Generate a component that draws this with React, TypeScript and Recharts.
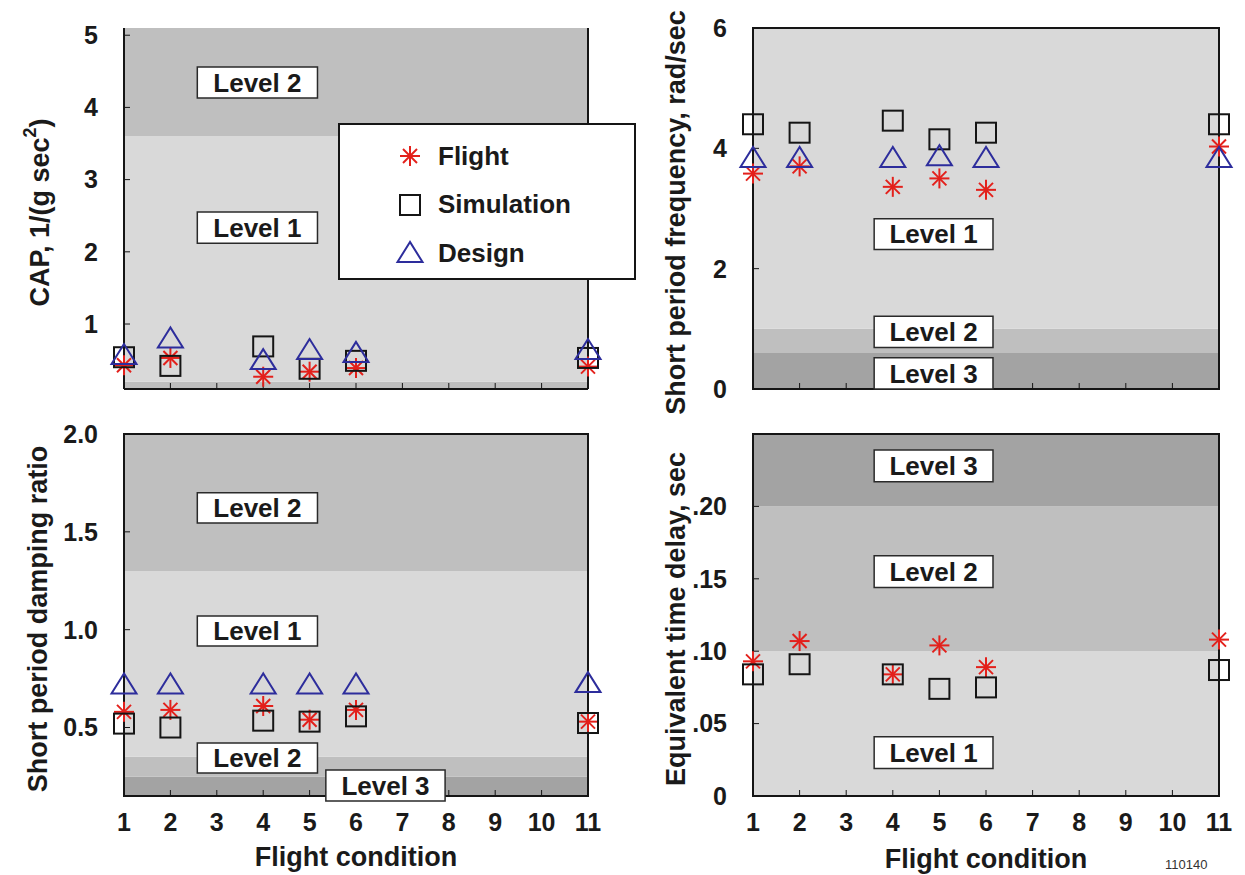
import React from 'react';
import { ScatterChart, Scatter, XAxis, YAxis, ReferenceArea, ReferenceLine, Legend } from 'recharts';

// flight conditions flown
const conditions = [1, 2, 4, 5, 6, 11];
const xTicks = [1, 2, 3, 4, 5, 6, 7, 8, 9, 10, 11];
const seriesNames = ['Flight', 'Simulation', 'Design'];

// CAP, 1/(g sec^2)
const capFlight = [0.43, 0.53, 0.27, 0.34, 0.39, 0.41];
const capSimulation = [0.54, 0.42, 0.69, 0.38, 0.49, 0.53];
const capDesign = [0.57, 0.8, 0.5, 0.64, 0.6, 0.64];
const capTicks = [1, 2, 3, 4, 5];

// short period frequency, rad/sec
const freqFlight = [3.58, 3.7, 3.36, 3.5, 3.31, 4.03];
const freqSimulation = [4.4, 4.26, 4.46, 4.15, 4.26, 4.4];
const freqDesign = [3.84, 3.84, 3.84, 3.87, 3.84, 3.84];
const freqTicks = [0, 2, 4, 6];

// short period damping ratio
const dampFlight = [0.58, 0.59, 0.61, 0.54, 0.59, 0.53];
const dampSimulation = [0.52, 0.5, 0.535, 0.53, 0.557, 0.523];
const dampDesign = [0.72, 0.72, 0.72, 0.72, 0.72, 0.727];
const dampTicks = [0.5, 1.0, 1.5, 2.0];

// equivalent time delay, sec
const delayFlight = [0.093, 0.107, 0.084, 0.104, 0.089, 0.108];
const delaySimulation = [0.084, 0.091, 0.084, 0.074, 0.075, 0.087];
const delayTicks = [0, 0.05, 0.1, 0.15, 0.2];

const FONT = '"Liberation Sans", Arial, Helvetica, sans-serif';
const LEVEL1 = '#d9d9d9';
const LEVEL2 = '#bfbfbf';
const LEVEL3 = '#a3a3a3';
const RED = '#e3201b';
const BLACK = '#151515';
const BLUE = '#2d2d9c';

const toPoints = (vals: number[]) => conditions.map((x, i) => ({ x, y: vals[i] }));

function StarMark({ cx, cy }: any) {
  if (cx == null || cy == null) return null;
  const r = 10;
  const d = 7;
  return (
    <g stroke={RED} strokeWidth={2}>
      <line x1={cx - r} y1={cy} x2={cx + r} y2={cy} />
      <line x1={cx} y1={cy - r} x2={cx} y2={cy + r} />
      <line x1={cx - d} y1={cy - d} x2={cx + d} y2={cy + d} />
      <line x1={cx - d} y1={cy + d} x2={cx + d} y2={cy - d} />
    </g>
  );
}

function SquareMark({ cx, cy }: any) {
  if (cx == null || cy == null) return null;
  return <rect x={cx - 10} y={cy - 10} width={20} height={20} fill="none" stroke={BLACK} strokeWidth={2} />;
}

function TriangleMark({ cx, cy }: any) {
  if (cx == null || cy == null) return null;
  return (
    <polygon
      points={`${cx},${cy - 11} ${cx - 12.5},${cy + 9} ${cx + 12.5},${cy + 9}`}
      fill="none"
      stroke={BLUE}
      strokeWidth={2}
    />
  );
}

const markers: Record<string, any> = { Flight: StarMark, Simulation: SquareMark, Design: TriangleMark };

function LegendBox({ payload }: any) {
  // keep the plotting order rather than the alphabetical one
  const items = [...(payload || [])].sort(
    (a: any, b: any) => seriesNames.indexOf(a.value) - seriesNames.indexOf(b.value)
  );
  return (
    <div
      style={{
        width: '100%',
        height: '100%',
        boxSizing: 'border-box',
        border: `2px solid ${BLACK}`,
        background: '#fff',
        paddingTop: 7,
        fontFamily: FONT,
        fontWeight: 700,
        fontSize: 26,
        color: '#1a1a1a',
      }}
    >
      {items.map((entry: any) => {
        const Mark = markers[entry.value];
        return (
          <div key={entry.value} style={{ display: 'flex', alignItems: 'center', height: 48.5 }}>
            <svg width={30} height={30} style={{ marginLeft: 55, marginRight: 13 }}>
              {Mark ? <Mark cx={15} cy={15} /> : null}
            </svg>
            <span>{entry.value}</span>
          </div>
        );
      })}
    </div>
  );
}

function YTitle({ viewBox, px, txt, sup, tail }: any) {
  const cy = viewBox.y + viewBox.height / 2 + 4;
  return (
    <text
      x={px}
      y={cy}
      transform={`rotate(-90, ${px}, ${cy})`}
      textAnchor="middle"
      dominantBaseline="central"
      fontFamily={FONT}
      fontWeight={700}
      fontSize={27}
      fill="#1a1a1a"
    >
      <tspan>{txt}</tspan>
      {sup ? (
        <tspan fontSize={18} dy={-10}>
          {sup}
        </tspan>
      ) : null}
      {tail ? <tspan dy={sup ? 10 : 0}>{tail}</tspan> : null}
    </text>
  );
}

function XTitle({ viewBox, py, txt }: any) {
  const cx = viewBox.x + viewBox.width / 2;
  return (
    <text
      x={cx}
      y={py}
      textAnchor="middle"
      dominantBaseline="central"
      fontFamily={FONT}
      fontWeight={700}
      fontSize={27}
      fill="#1a1a1a"
    >
      {txt}
    </text>
  );
}

const levelLabel = (value: string) => ({
  value,
  position: 'center' as const,
  fill: '#1a1a1a',
  fontSize: 26,
  fontWeight: 700,
  fontFamily: FONT,
});

function Panel({ cfg }: any) {
  const { left, top, width, height, margin, yWidth, xHeight, domain, ticks, fmt, showX, bands, boxes, frame, series, yTitle, xTitle, legend } = cfg;
  return (
    <div style={{ position: 'absolute', left, top, width, height }}>
      <ScatterChart width={width} height={height} margin={margin}>
        <XAxis
          type="number"
          dataKey="x"
          domain={[1, 11]}
          ticks={xTicks}
          interval={0}
          height={xHeight}
          tickSize={-6}
          tickMargin={23}
          axisLine={{ stroke: BLACK, strokeWidth: 2 }}
          tickLine={{ stroke: BLACK }}
          tick={{ fontSize: 25, fontWeight: 700, fill: '#1a1a1a', fontFamily: FONT }}
          tickFormatter={showX ? (v: number) => String(v) : () => ''}
          label={xTitle ? <XTitle py={xTitle.py} txt={xTitle.txt} /> : undefined}
        />
        <YAxis
          type="number"
          dataKey="y"
          domain={domain}
          ticks={ticks}
          interval={0}
          width={yWidth}
          tickSize={-6}
          tickMargin={32}
          axisLine={{ stroke: BLACK, strokeWidth: 2 }}
          tickLine={{ stroke: BLACK }}
          tick={{ fontSize: 25, fontWeight: 700, fill: '#1a1a1a', fontFamily: FONT }}
          tickFormatter={fmt}
          label={<YTitle px={yTitle.px} txt={yTitle.txt} sup={yTitle.sup} tail={yTitle.tail} />}
        />
        {bands.map((b: any, i: number) => (
          <ReferenceArea key={`band${i}`} y1={b.y1} y2={b.y2} fill={b.fill} fillOpacity={1} stroke="none" />
        ))}
        {frame === 'box' ? (
          <ReferenceArea x1={1} x2={11} y1={domain[0]} y2={domain[1]} fill="none" stroke={BLACK} strokeWidth={2} />
        ) : (
          <ReferenceLine x={11} stroke={BLACK} strokeWidth={2} />
        )}
        {boxes.map((b: any, i: number) => (
          <ReferenceArea
            key={`box${i}`}
            x1={b.x1}
            x2={b.x2}
            y1={b.y1}
            y2={b.y2}
            fill="#ffffff"
            fillOpacity={1}
            stroke="#2a2a2a"
            strokeWidth={1.5}
            ifOverflow="visible"
            zIndex={1000}
            label={levelLabel(b.text)}
          />
        ))}
        {series.map((s: any) => (
          <Scatter
            key={s.name}
            name={s.name}
            data={toPoints(s.values)}
            fill={s.color}
            shape={markers[s.name]}
            isAnimationActive={false}
          />
        ))}
        {legend ? (
          <Legend
            layout="vertical"
            align="center"
            verticalAlign="middle"
            width={298}
            height={157}
            wrapperStyle={{ left: 338, top: 123, width: 298, height: 157 }}
            content={(props: any) => <LegendBox payload={props.payload} />}
          />
        ) : null}
      </ScatterChart>
    </div>
  );
}

const flightSeries = (v: number[]) => ({ name: 'Flight', values: v, color: RED });
const simSeries = (v: number[]) => ({ name: 'Simulation', values: v, color: BLACK });
const designSeries = (v: number[]) => ({ name: 'Design', values: v, color: BLUE });

const panels = [
  {
    left: 0, top: 0, width: 650, height: 420,
    margin: { top: 28, right: 62, bottom: 11, left: 40 }, yWidth: 84, xHeight: 20,
    domain: [0.1, 5.1], ticks: capTicks, fmt: (v: number) => String(v), showX: false,
    bands: [
      { y1: 0.1, y2: 0.2, fill: LEVEL2 },
      { y1: 0.2, y2: 3.6, fill: LEVEL1 },
      { y1: 3.6, y2: 5.1, fill: LEVEL2 },
    ],
    boxes: [
      { x1: 2.58, x2: 5.17, y1: 4.13, y2: 4.56, text: 'Level 2' },
      { x1: 2.58, x2: 5.17, y1: 2.12, y2: 2.55, text: 'Level 1' },
    ],
    frame: 'right',
    series: [flightSeries(capFlight), simSeries(capSimulation), designSeries(capDesign)],
    yTitle: { px: 40, txt: 'CAP, 1/(g sec', sup: '2', tail: ')' },
    legend: true,
  },
  {
    left: 650, top: 0, width: 595, height: 420,
    margin: { top: 28, right: 26, bottom: 11, left: 23 }, yWidth: 80, xHeight: 20,
    domain: [0, 6], ticks: freqTicks, fmt: (v: number) => String(v), showX: false,
    bands: [
      { y1: 0, y2: 0.6, fill: LEVEL3 },
      { y1: 0.6, y2: 1.0, fill: LEVEL2 },
      { y1: 1.0, y2: 6, fill: LEVEL1 },
    ],
    boxes: [
      { x1: 3.6, x2: 6.15, y1: 2.32, y2: 2.83, text: 'Level 1' },
      { x1: 3.6, x2: 6.15, y1: 0.69, y2: 1.21, text: 'Level 2' },
      { x1: 3.6, x2: 6.15, y1: 0, y2: 0.52, text: 'Level 3' },
    ],
    frame: 'box',
    series: [flightSeries(freqFlight), simSeries(freqSimulation), designSeries(freqDesign)],
    yTitle: { px: 26, txt: 'Short period frequency, rad/sec' },
  },
  {
    left: 0, top: 420, width: 650, height: 455,
    margin: { top: 14, right: 62, bottom: 19, left: 40 }, yWidth: 84, xHeight: 60,
    domain: [0.15, 2.0], ticks: dampTicks, fmt: (v: number) => v.toFixed(1), showX: true,
    bands: [
      { y1: 0.15, y2: 0.25, fill: LEVEL3 },
      { y1: 0.25, y2: 0.35, fill: LEVEL2 },
      { y1: 0.35, y2: 1.3, fill: LEVEL1 },
      { y1: 1.3, y2: 2.0, fill: LEVEL2 },
    ],
    boxes: [
      { x1: 2.58, x2: 5.17, y1: 1.545, y2: 1.7, text: 'Level 2' },
      { x1: 2.58, x2: 5.17, y1: 0.917, y2: 1.07, text: 'Level 1' },
      { x1: 2.58, x2: 5.17, y1: 0.268, y2: 0.421, text: 'Level 2' },
      { x1: 5.35, x2: 7.92, y1: 0.124, y2: 0.283, text: 'Level 3' },
    ],
    frame: 'box',
    series: [flightSeries(dampFlight), simSeries(dampSimulation), designSeries(dampDesign)],
    yTitle: { px: 38, txt: 'Short period damping ratio' },
    xTitle: { py: 437, txt: 'Flight condition' },
  },
  {
    left: 650, top: 420, width: 595, height: 455,
    margin: { top: 14, right: 26, bottom: 19, left: 23 }, yWidth: 80, xHeight: 60,
    domain: [0, 0.25], ticks: delayTicks,
    fmt: (v: number) => (v === 0 ? '0' : v.toFixed(2).replace(/^0/, '')), showX: true,
    bands: [
      { y1: 0, y2: 0.1, fill: LEVEL1 },
      { y1: 0.1, y2: 0.2, fill: LEVEL2 },
      { y1: 0.2, y2: 0.25, fill: LEVEL3 },
    ],
    boxes: [
      { x1: 3.6, x2: 6.15, y1: 0.217, y2: 0.239, text: 'Level 3' },
      { x1: 3.6, x2: 6.15, y1: 0.144, y2: 0.166, text: 'Level 2' },
      { x1: 3.6, x2: 6.15, y1: 0.019, y2: 0.041, text: 'Level 1' },
    ],
    frame: 'box',
    series: [flightSeries(delayFlight), simSeries(delaySimulation)],
    yTitle: { px: 26, txt: 'Equivalent time delay, sec' },
    xTitle: { py: 439, txt: 'Flight condition' },
  },
];

export default function App() {
  return (
    <div
      style={{
        position: 'absolute',
        left: 0,
        top: 0,
        width: 1245,
        height: 875,
        overflow: 'hidden',
        background: '#fff',
        fontFamily: FONT,
      }}
    >
      {panels.map((cfg, i) => (
        <Panel key={i} cfg={cfg} />
      ))}
      <div style={{ position: 'absolute', left: 1165, top: 858, fontSize: 13, lineHeight: '14px', color: '#333' }}>
        110140
      </div>
    </div>
  );
}
